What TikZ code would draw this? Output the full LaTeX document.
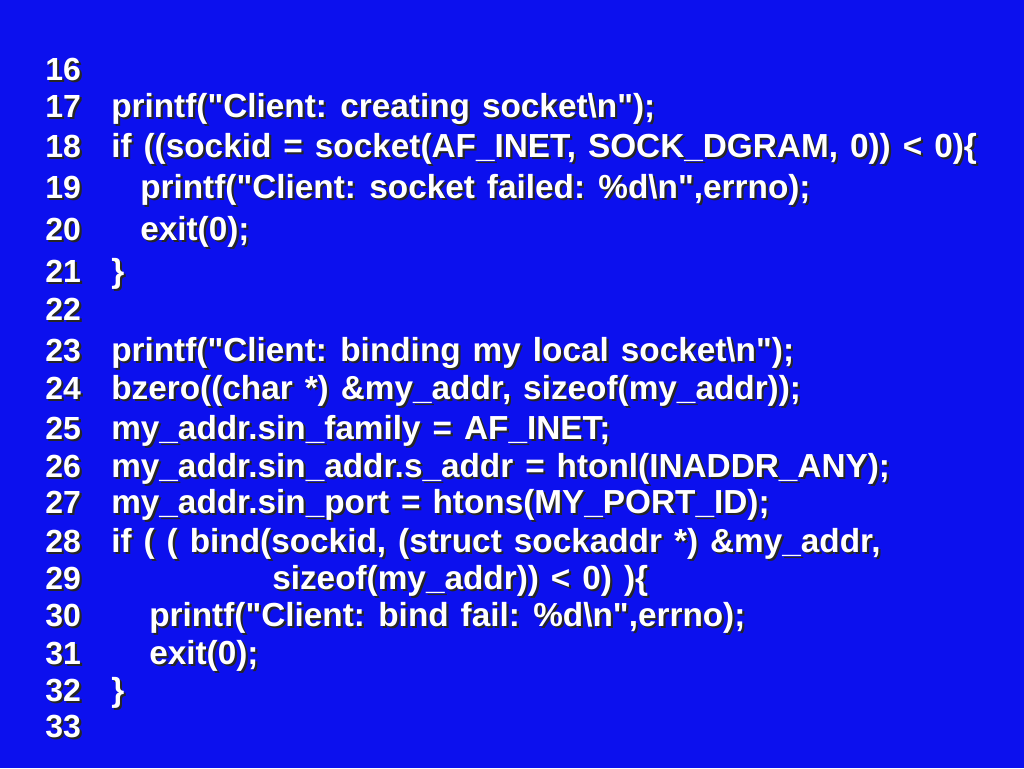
\documentclass[tikz,border=0pt]{standalone}
\usepackage{fontspec}
\newfontfamily\slidefont{Liberation Sans}
\usetikzlibrary{positioning}

\definecolor{slideblue}{RGB}{12,16,238}
\newcommand{\numfont}{\slidefont\fontsize{24}{28}\selectfont\bfseries}
\newcommand{\codefont}{\slidefont\fontsize{25}{28}\selectfont\bfseries
  \spaceskip=9pt\relax\xspaceskip=10pt\relax}
\tikzset{
  basetext/.style={anchor=base west, inner sep=0pt, text=white},
  numtext/.style={basetext, font=\numfont},
  codetext/.style={basetext, font=\codefont},
  shadowtext/.style={text=black!85}
}
% one line of the listing: [style], name, x, baseline y, text
\newcommand{\codeline}[5][codetext]{%
  \node[#1, shadowtext] at (#3+2.2,#4+2.2) {#5};
  \node[#1] (#2) at (#3,#4) {#5};
}

\begin{document}
\begin{tikzpicture}[x=0.75pt, y=-0.75pt]
    % slide background
    \fill[slideblue] (0,0) rectangle (1024,768);
    \useasboundingbox (0,0) rectangle (1024,768);

    % line numbers
    \codeline[numtext]{n16}{45}{80}{16}
    \codeline[numtext]{n17}{45}{117}{17}
    \codeline[numtext]{n18}{45}{157}{18}
    \codeline[numtext]{n19}{45}{198}{19}
    \codeline[numtext]{n20}{45}{240}{20}
    \codeline[numtext]{n21}{45}{282}{21}
    \codeline[numtext]{n22}{45}{320}{22}
    \codeline[numtext]{n23}{45}{361}{23}
    \codeline[numtext]{n24}{45}{399}{24}
    \codeline[numtext]{n25}{45}{439}{25}
    \codeline[numtext]{n26}{45}{477}{26}
    \codeline[numtext]{n27}{45}{513}{27}
    \codeline[numtext]{n28}{45}{552}{28}
    \codeline[numtext]{n29}{45}{589}{29}
    \codeline[numtext]{n30}{45}{626}{30}
    \codeline[numtext]{n31}{45}{664}{31}
    \codeline[numtext]{n32}{45}{701}{32}
    \codeline[numtext]{n33}{45}{737}{33}

    % creating the socket
    \codeline{c17}{111}{117}{printf("Client: creating socket\textbackslash n");}
    \codeline{c18}{111}{157}{if ((sockid = socket(AF\_INET, SOCK\_DGRAM, 0)) < 0)\{}
    \codeline{c19}{140}{198}{printf("Client: socket failed: \%d\textbackslash n",errno);}
    \codeline{c20}{140}{240}{exit(0);}
    \codeline{c21}{111}{282}{\}}

    % binding the local socket
    \codeline{c23}{111}{361}{printf("Client: binding my local socket\textbackslash n");}
    \codeline{c24}{111}{399}{bzero((char *) \&my\_addr, sizeof(my\_addr));}
    \codeline{c25}{111}{439}{my\_addr.sin\_family = AF\_INET;}
    \codeline{c26}{111}{477}{my\_addr.sin\_addr.s\_addr = htonl(INADDR\_ANY);}
    \codeline{c27}{111}{513}{my\_addr.sin\_port = htons(MY\_PORT\_ID);}
    \codeline{c28}{111}{552}{if ( ( bind(sockid, (struct sockaddr *) \&my\_addr,}
    \codeline{c29}{272}{589}{sizeof(my\_addr)) < 0) )\{}
    \codeline{c30}{149}{626}{printf("Client: bind fail: \%d\textbackslash n",errno);}
    \codeline{c31}{149}{664}{exit(0);}
    \codeline{c32}{111}{701}{\}}
\end{tikzpicture}
\end{document}
